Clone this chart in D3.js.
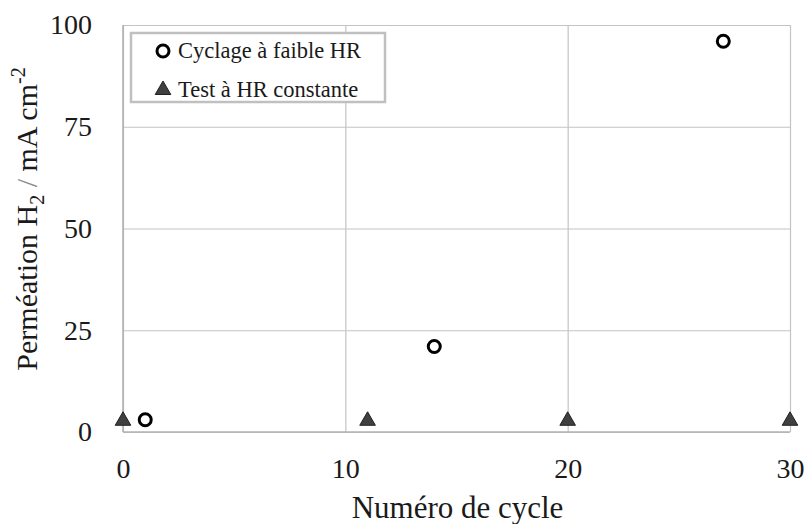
<!DOCTYPE html>
<html>
<head>
<meta charset="utf-8">
<script src="https://cdn.jsdelivr.net/npm/d3@7"></script>
<style>
  html, body { margin: 0; padding: 0; background: #fff; }
  svg { display: block; }
</style>
</head>
<body>
<svg id="chart" width="808" height="524"></svg>
<script>
// Cycling at low relative humidity
const cyclageCycles = [1, 14, 27];
const cyclageValues = [3, 21, 96];

// Constant relative humidity test
const constanteCycles = [0, 11, 20, 30];
const constanteValues = [3, 3, 3, 3];

const xTicks = [0, 10, 20, 30];
const yTicks = [0, 25, 50, 75, 100];

const legendLabels = ["Cyclage à faible HR", "Test à HR constante"];

const FONT = "'Liberation Serif', 'Times New Roman', Times, serif";
const TEXT = "#1a1a1a";

const svg = d3.select("#chart");
const W = 808, H = 524;
const margin = { left: 123, right: 18, top: 25, bottom: 92 };
const x = d3.scaleLinear().domain([0, 30]).range([margin.left, W - margin.right]);
const y = d3.scaleLinear().domain([0, 100]).range([H - margin.bottom, margin.top]);

const gridColor = "#c4c4c4";
const axisColor = "#b2b2b2";

// Gridlines
const grid = svg.append("g");
grid.append("g")
  .attr("transform", `translate(0,${y(0)})`)
  .call(d3.axisBottom(x).tickValues(xTicks).tickSize(-(y(0) - y(100))).tickFormat(""))
  .call(g => g.select(".domain").remove())
  .call(g => g.selectAll("line").attr("stroke", gridColor).attr("stroke-width", 1.2));
grid.append("g")
  .attr("transform", `translate(${x(0)},0)`)
  .call(d3.axisLeft(y).tickValues(yTicks).tickSize(-(x(30) - x(0))).tickFormat(""))
  .call(g => g.select(".domain").remove())
  .call(g => g.selectAll("line").attr("stroke", gridColor).attr("stroke-width", 1.2));

// Axis lines
svg.append("line").attr("x1", x(0)).attr("x2", x(30)).attr("y1", y(0)).attr("y2", y(0))
  .attr("stroke", axisColor).attr("stroke-width", 1.6);
svg.append("line").attr("x1", x(0)).attr("x2", x(0)).attr("y1", y(0)).attr("y2", y(100))
  .attr("stroke", axisColor).attr("stroke-width", 1.6);

// Tick labels
const yAxis = svg.append("g")
  .attr("transform", `translate(${x(0) - 31},0)`)
  .call(d3.axisLeft(y).tickValues(yTicks).tickSize(0).tickPadding(0))
  .call(g => g.select(".domain").remove());
yAxis.selectAll("text")
  .style("font-family", FONT)
  .attr("font-size", 28).attr("fill", TEXT);

const xAxis = svg.append("g")
  .attr("transform", `translate(0,${y(0) + 26})`)
  .call(d3.axisBottom(x).tickValues(xTicks).tickSize(0).tickPadding(0))
  .call(g => g.select(".domain").remove());
xAxis.selectAll("text")
  .style("font-family", FONT)
  .attr("font-size", 28).attr("fill", TEXT);

// Axis titles
svg.append("text")
  .attr("x", (x(0) + x(30)) / 2 + 1).attr("y", 518)
  .attr("text-anchor", "middle")
  .style("font-family", FONT)
  .attr("font-size", 31).attr("fill", TEXT)
  .text("Numéro de cycle");

const yt = svg.append("text")
  .attr("transform", "translate(37,219) rotate(-90)")
  .attr("text-anchor", "middle")
  .style("font-family", FONT)
  .attr("font-size", 30).attr("fill", TEXT);
yt.append("tspan").text("Perméation H");
yt.append("tspan").attr("font-size", 20).attr("dy", 7).text("2");
yt.append("tspan").attr("dy", -7).attr("fill", "#8a8a8a").text(" / ");
yt.append("tspan").text("mA cm");
yt.append("tspan").attr("font-size", 20).attr("dy", -12).text("-2");

// Markers
const triangle = d3.symbol().type(d3.symbolTriangle).size(105);

svg.append("g").selectAll("path")
  .data(constanteCycles.map((c, i) => [c, constanteValues[i]]))
  .join("path")
  .attr("d", triangle)
  .attr("transform", d => `translate(${x(d[0])},${y(d[1]) + 1})`)
  .attr("fill", "#404040").attr("stroke", "#202020").attr("stroke-width", 1);

svg.append("g").selectAll("circle")
  .data(cyclageCycles.map((c, i) => [c, cyclageValues[i]]))
  .join("circle")
  .attr("cx", d => x(d[0])).attr("cy", d => y(d[1]))
  .attr("r", 6).attr("fill", "#fff").attr("stroke", "#000").attr("stroke-width", 3);

// Legend
const lg = svg.append("g");
lg.append("rect").attr("x", 131).attr("y", 33).attr("width", 254).attr("height", 69)
  .attr("fill", "#fff").attr("stroke", "#c0c0c0").attr("stroke-width", 2.5);
lg.append("circle").attr("cx", 163).attr("cy", 51).attr("r", 6)
  .attr("fill", "#fff").attr("stroke", "#000").attr("stroke-width", 3);
lg.append("path").attr("d", triangle).attr("transform", "translate(163,90)")
  .attr("fill", "#404040").attr("stroke", "#202020").attr("stroke-width", 1);
lg.selectAll("text.lab").data(legendLabels).join("text")
  .attr("class", "lab")
  .attr("x", 178).attr("y", (d, i) => 58 + i * 39)
  .style("font-family", FONT)
  .attr("font-size", 22.5).attr("fill", TEXT)
  .text(d => d);
</script>
</body>
</html>
